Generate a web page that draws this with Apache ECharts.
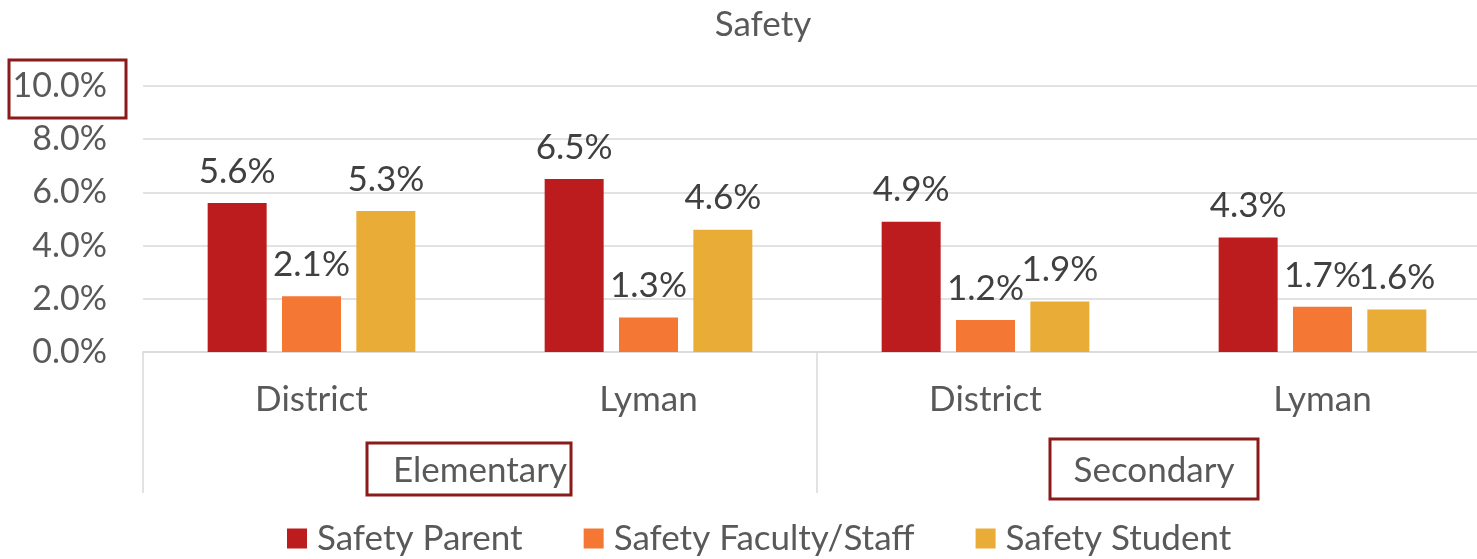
<!DOCTYPE html>
<html>
<head>
<meta charset="utf-8">
<script src="https://cdn.jsdelivr.net/npm/echarts@6/dist/echarts.min.js"></script>
<style>
  html, body { margin: 0; padding: 0; background: #fff; }
  #chart { width: 1477px; height: 559px; }
</style>
</head>
<body>
<div id="chart"></div>
<script>
// data
var schools = ['District', 'Lyman', 'District', 'Lyman'];
var levels = ['Elementary', 'Secondary'];
var seriesNames = ['Safety Parent', 'Safety Faculty/Staff', 'Safety Student'];
var parentVals = [5.6, 6.5, 4.9, 4.3];
var staffVals = [2.1, 1.3, 1.2, 1.7];
var studentVals = [5.3, 4.6, 1.9, 1.6];
var colors = ['#BC1C1E', '#F47734', '#E9AC36'];

var font = 'Lato';
var txt = '#595959';
var gridCol = '#d9d9d9';

var myChart = echarts.init(document.getElementById('chart'));

function barSeries(name, vals, color) {
    return {
        name: name,
        type: 'bar',
        xAxisIndex: 0,
        barWidth: 59,
        barGap: '26%',
        itemStyle: { color: color },
        label: {
            show: true,
            position: 'top',
            distance: 14,
            fontFamily: font,
            fontSize: 35,
            color: '#404040',
            formatter: function (p) { return p.value.toFixed(1) + '%'; }
        },
        data: vals
    };
}

var option = {
    animation: false,
    title: {
        text: 'Safety',
        left: 758,
        textAlign: 'center',
        top: 2,
        textStyle: { fontFamily: font, fontSize: 35, fontWeight: 'normal', color: txt }
    },
    legend: {
        data: seriesNames,
        left: 287,
        top: 521,
        padding: 0,
        itemWidth: 20,
        itemHeight: 20,
        itemGap: 61,
        icon: 'rect',
        textStyle: { fontFamily: font, fontSize: 35, color: txt, padding: [0, 0, 0, 5] }
    },
    grid: { left: 143, width: 1348, top: 86, bottom: 207, outerBoundsMode: 'none', containLabel: false },
    xAxis: [
        {
            type: 'category',
            data: schools,
            position: 'bottom',
            axisLine: { lineStyle: { color: gridCol, width: 1.5 } },
            axisTick: { show: false },
            axisLabel: { fontFamily: font, fontSize: 35, color: txt, margin: 30 }
        },
        {
            type: 'category',
            data: levels,
            position: 'bottom',
            axisLine: { show: false },
            axisTick: { show: true, length: 141, lineStyle: { color: gridCol, width: 1.5 } },
            axisLabel: { fontFamily: font, fontSize: 35, color: txt, margin: 101 }
        }
    ],
    yAxis: {
        type: 'value',
        min: 0,
        max: 10,
        interval: 2,
        axisLine: { show: false },
        axisTick: { show: false },
        splitLine: { lineStyle: { color: gridCol, width: 1.5 } },
        axisLabel: {
            fontFamily: font, fontSize: 34, color: txt, margin: 36,
            formatter: function (v) { return v.toFixed(1) + '%'; }
        }
    },
    series: [
        barSeries(seriesNames[0], parentVals, colors[0]),
        barSeries(seriesNames[1], staffVals, colors[1]),
        barSeries(seriesNames[2], studentVals, colors[2])
    ],
    // red annotation boxes from the original slide
    graphic: [
        { type: 'rect', shape: { x: 9, y: 60, width: 117, height: 58 }, style: { fill: 'none', stroke: '#8B1A1A', lineWidth: 3 } },
        { type: 'rect', shape: { x: 367, y: 443, width: 204, height: 52 }, style: { fill: 'none', stroke: '#8B1A1A', lineWidth: 3 } },
        { type: 'rect', shape: { x: 1050, y: 439, width: 208, height: 60 }, style: { fill: 'none', stroke: '#8B1A1A', lineWidth: 3 } }
    ]
};

myChart.setOption(option);
</script>
</body>
</html>
